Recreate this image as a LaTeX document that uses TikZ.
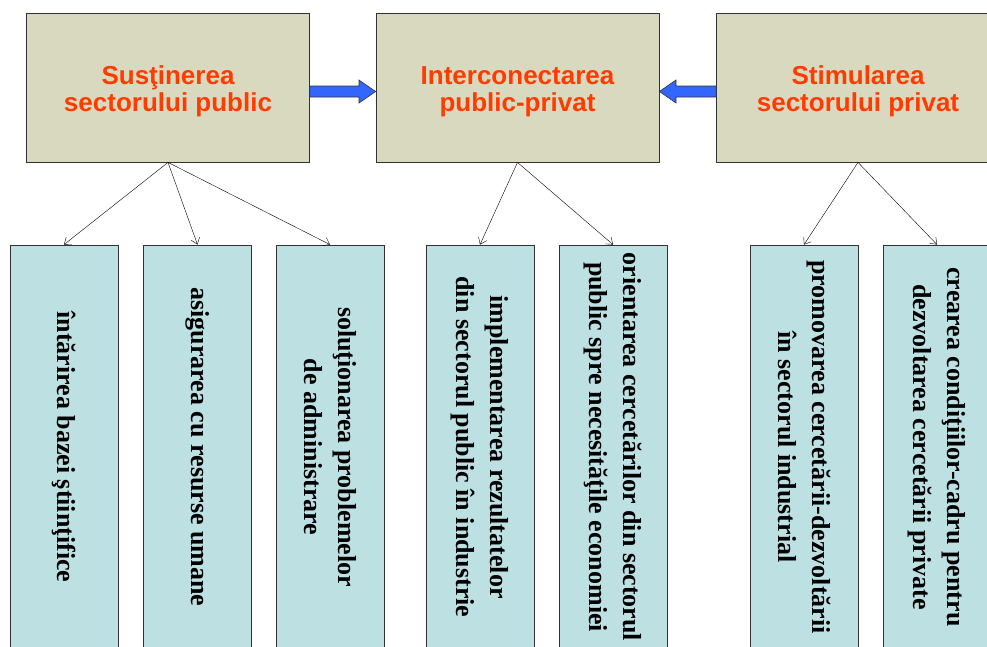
\documentclass[tikz,border=0pt]{standalone}
\usepackage{fontspec}
\setmainfont{Liberation Serif}
\newfontfamily\headfont{Liberation Sans}
\usetikzlibrary{arrows.meta,calc}
\definecolor{headfill}{RGB}{217,217,192}
\definecolor{subfill}{RGB}{189,224,227}
\definecolor{headtxt}{RGB}{255,60,0}
\definecolor{arrblue}{RGB}{51,102,255}
\newcommand{\hstrut}{\rule{0pt}{26pt}}
\begin{document}
\begin{tikzpicture}[x=1pt,y=-1pt,
  headbox/.style={draw=black!80, line width=0.8pt, fill=headfill, minimum width=283pt, minimum height=149pt, inner sep=0pt, align=center, font=\headfont\bfseries\fontsize{26}{27}\selectfont, text=headtxt},
  subbox/.style={draw=black!80, line width=0.8pt, fill=subfill, minimum width=404pt, minimum height=108pt, inner sep=0pt, rotate=-90, align=center, font=\bfseries\fontsize{26}{34}\selectfont},
  link/.style={draw=black, line width=0.4pt, -{Straight Barb[length=6pt,width=9pt,line width=0.4pt]}},
  blockarrow/.style={draw=black!80, line width=0.6pt, fill=arrblue}]
\clip (0,0) rectangle (987,646);
\fill[white] (0,0) rectangle (987,646);
% top boxes
\node[headbox] (s1) at (168,87.5) {\hstrut Susţinerea\\sectorului public};
\node[headbox] (s2) at (517.5,87.5) {\hstrut Interconectarea\\public-privat};
\node[headbox] (s3) at (858,87.5) {\hstrut Stimularea\\sectorului privat};
% lower boxes
\node[subbox] (a) at (64,447) {întărirea bazei ştiinţifice};
\node[subbox] (b) at (197.5,447) {asigurarea cu resurse umane};
\node[subbox] (c) at (330,447) {soluţionarea problemelor\\de administrare};
\node[subbox] (d) at (480,447) {implementarea rezultatelor\\din sectorul public în industrie};
\node[subbox] (e) at (613,447) {orientarea cercetărilor din sectorul\\public spre necesităţile economiei};
\node[subbox] (f) at (804,447) {promovarea cercetării-dezvoltării\\în sectorul industrial};
\node[subbox] (g) at (937,447) {crearea condiţiilor-cadru pentru\\dezvoltarea cercetării private};
% block arrows
\draw[blockarrow] (s1.east |- 0,86) -- (359,86) -- (359,80) -- (s2.west |- 0,91.5) -- (359,103) -- (359,97) -- (s1.east |- 0,97) -- cycle;
\draw[blockarrow] (s3.west |- 0,86) -- (676,86) -- (676,80) -- (s2.east |- 0,91.5) -- (676,103) -- (676,97) -- (s3.west |- 0,97) -- cycle;
% connectors
\draw[link] (s1.south) -- (a.west);
\draw[link] (s1.south) -- (b.west);
\draw[link] (s1.south) -- (c.west);
\draw[link] (s2.south) -- (d.west);
\draw[link] (s2.south) -- (e.west);
\draw[link] (s3.south) -- (f.west);
\draw[link] (s3.south) -- (g.west);
\end{tikzpicture}
\end{document}
